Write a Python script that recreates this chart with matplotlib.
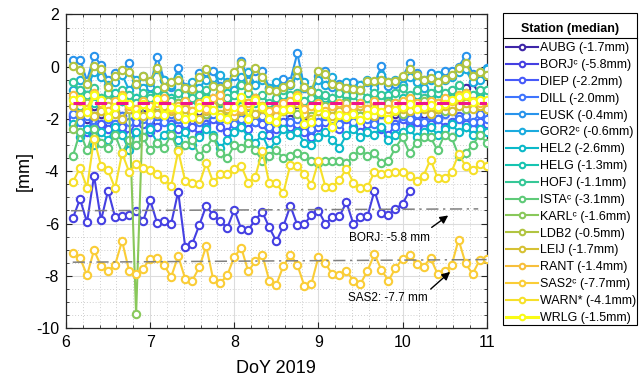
import numpy as np
import matplotlib
matplotlib.use("Agg")
import matplotlib.pyplot as plt
from matplotlib.ticker import MultipleLocator
from matplotlib.patches import Rectangle

plt.rcParams['font.family'] = ['Liberation Sans', 'DejaVu Sans']
plt.rcParams['axes.unicode_minus'] = False

# ---------------- data ----------------
doy = 6 + np.arange(1, 61) / 12.0   # 2-hourly epochs, DoY 6.08 .. 11.0

stations = ['AUBG', 'BORJ\u1d9c', 'DIEP', 'DILL', 'EUSK', 'GOR2\u1d9c', 'HEL2', 'HELG', 'HOFJ',
            'ISTA\u1d9c', 'KARL\u1d9c', 'LDB2', 'LEIJ', 'RANT', 'SAS2\u1d9c', 'WARN*', 'WRLG']
medians = [-1.7, -5.8, -2.2, -2.0, -0.4, -0.6, -2.6, -1.3, -1.1, -3.1, -1.6, -0.5, -1.7, -1.4, -7.7, -4.1, -1.5]

AUBG = [-1.9,-1.6,-2.0,-1.5,-1.8,-2.1,-1.7,-1.9,-1.6,-2.0,-1.8,-1.7,
        -2.1,-1.8,-1.6,-2.0,-1.9,-2.2,-1.7,-1.8,-1.6,-1.9,-2.0,-1.8,
        -1.5,-1.7,-2.1,-1.9,-1.6,-1.8,-2.2,-2.0,-1.7,-1.9,-2.4,-2.2,
        -1.8,-1.9,-2.1,-1.7,-1.6,-1.9,-1.8,-2.0,-1.7,-1.5,-1.8,-1.6,
        -1.7,-1.5,-1.8,-1.4,-1.6,-1.2,-1.3,-1.0,-0.8,-0.6,-1.1,-1.3]
BORJ = [-5.78,-5.06,-5.96,-4.17,-5.88,-4.74,-5.75,-5.70,-5.68,-5.51,-5.91,-5.10,
        -5.98,-5.91,-6.01,-4.78,-6.89,-6.78,-6.07,-5.32,-5.68,-5.91,-6.17,-5.48,
        -6.21,-6.24,-5.86,-5.56,-6.15,-6.68,-6.11,-5.32,-6.06,-6.02,-5.68,-5.51,
        -6.01,-5.75,-5.73,-5.18,-6.03,-5.75,-5.73,-4.74,-5.60,-5.68,-5.44,-5.25,
        -4.75]
DIEP = [-2.0,-2.3,-2.5,-1.9,-2.2,-2.4,-2.0,-2.3,-2.6,-2.1,-2.2,-2.5,
        -2.3,-2.0,-2.2,-2.4,-2.1,-2.3,-2.6,-2.2,-2.0,-2.3,-2.5,-2.1,
        -2.2,-2.4,-2.0,-2.2,-2.6,-2.4,-2.1,-2.3,-2.2,-2.5,-2.7,-2.3,
        -2.1,-2.2,-2.4,-2.0,-2.3,-2.5,-2.2,-2.1,-2.4,-2.6,-2.2,-2.0,
        -2.3,-2.1,-2.4,-2.2,-2.0,-2.3,-2.1,-1.9,-2.2,-2.4,-2.1,-2.2]
DILL = [-1.8,-2.1,-1.9,-2.3,-1.7,-2.0,-2.2,-1.9,-2.1,-1.8,-2.0,-2.3,
        -1.9,-2.1,-1.8,-2.0,-2.2,-1.9,-2.1,-2.3,-1.8,-2.0,-1.9,-2.2,
        -2.0,-1.8,-2.1,-1.9,-2.3,-2.0,-1.7,-2.1,-2.0,-2.2,-2.4,-2.1,
        -1.9,-2.0,-2.2,-1.8,-2.1,-1.9,-2.0,-2.2,-1.8,-2.0,-2.3,-1.9,
        -2.0,-1.8,-2.1,-1.9,-2.0,-1.8,-1.7,-2.0,-1.9,-2.1,-1.8,-2.0]
EUSK = [0.25,0.25,-0.53,0.42,0.06,-0.51,-0.25,-0.15,0.13,-0.66,-0.34,-0.76,
        0.38,-0.51,-0.76,-0.06,-0.79,-0.72,-0.25,-0.21,-0.15,-0.75,-0.81,-0.34,
        0.23,-0.53,-0.15,-0.18,-0.81,-0.89,-0.47,-0.53,0.52,-0.81,-0.91,-0.34,
        -0.18,-0.79,-0.66,-0.72,-0.60,-0.85,-0.60,-0.66,0.04,-0.72,-0.66,-0.41,
        0.14,-0.25,-0.51,-0.25,-0.53,-0.15,-0.15,0.00,0.42,-0.28,-0.30,-0.03]
GOR2 = [-0.9,-0.5,-0.8,-0.2,-0.4,-0.7,-0.6,-0.3,-0.9,-0.5,-0.8,-0.6,
        -0.1,-0.5,-0.7,-0.4,-0.9,-0.6,-0.8,-0.5,-0.7,-0.3,-0.6,-0.9,
        -0.4,-0.2,-0.7,-0.5,-0.8,-0.6,-0.9,-0.7,-0.3,-0.6,-0.9,-0.5,
        -0.7,-0.4,-0.8,-0.6,-0.9,-0.7,-0.5,-0.8,-0.3,-0.6,-0.5,-0.7,
        -0.4,-0.6,-0.8,-0.5,-0.3,-0.5,-0.4,-0.2,-0.1,-0.6,-0.5,-0.1]
HEL2 = [-2.2,-2.7,-2.4,-3.0,-2.5,-2.8,-2.3,-2.6,-3.2,-2.5,-2.7,-2.4,
        -2.9,-2.6,-2.3,-2.8,-2.5,-3.0,-2.7,-2.4,-2.6,-3.1,-2.8,-2.5,
        -2.3,-2.7,-2.9,-2.6,-3.2,-2.8,-2.4,-2.6,-2.5,-2.9,-3.0,-2.7,
        -2.5,-2.8,-3.1,-2.6,-2.4,-2.7,-2.5,-2.6,-2.3,-2.8,-2.6,-2.5,
        -2.4,-2.7,-2.5,-2.3,-2.6,-2.4,-2.2,-2.5,-2.3,-2.6,-2.4,-2.5]
HELG = [-1.2,-1.5,-1.1,-1.4,-1.3,-1.6,-1.0,-1.3,-1.5,-1.2,-1.4,-1.1,
        -1.3,-1.6,-1.2,-1.4,-1.1,-1.5,-1.3,-1.2,-1.6,-1.4,-1.0,-1.3,
        -1.5,-1.2,-1.4,-1.3,-1.6,-1.4,-1.1,-1.3,-1.2,-1.5,-1.7,-1.3,
        -1.2,-1.4,-1.5,-1.1,-1.3,-1.4,-1.2,-1.5,-1.3,-1.1,-1.4,-1.2,
        -1.3,-1.1,-1.4,-1.2,-1.0,-1.3,-1.2,-0.9,-1.1,-1.3,-1.2,-1.1]
HOFJ = [-0.6,-0.9,-1.1,-0.8,-1.2,-1.0,-1.3,-0.9,-1.1,-1.4,-1.0,-1.2,
        -0.9,-1.1,-1.3,-1.0,-0.8,-1.2,-1.1,-0.9,-1.3,-1.0,-1.2,-1.1,
        -0.7,-1.0,-1.2,-1.1,-1.4,-1.2,-0.9,-1.1,-1.0,-1.3,-1.2,-1.0,
        -1.1,-1.2,-1.0,-1.3,-1.1,-0.9,-1.2,-1.0,-1.1,-1.3,-1.0,-0.8,
        -1.1,-0.9,-1.2,-1.0,-0.8,-1.0,-0.9,-0.7,-1.0,-1.1,-0.9,-0.9]
ISTA = [-3.4,-2.5,-3.2,-2.4,-2.9,-3.1,-2.6,-3.3,-2.8,-3.0,-2.7,-3.2,
        -2.9,-3.1,-2.6,-3.2,-3.0,-2.8,-3.4,-3.1,-2.7,-3.3,-3.5,-3.0,
        -3.1,-2.9,-3.2,-3.6,-3.4,-3.2,-3.5,-3.4,-3.3,-3.4,-3.6,-3.7,
        -3.6,-3.6,-3.6,-3.7,-3.4,-3.2,-3.4,-3.3,-3.7,-3.6,-3.1,-2.7,
        -3.3,-2.9,-2.7,-2.7,-3.2,-2.6,-2.7,-3.4,-3.3,-3.0,-2.6,-2.9]
KARL = [-2.4,-1.8,-1.4,-1.9,-1.6,-1.3,-1.7,-2.0,-1.5,-9.48,-1.4,-1.8,
        -1.5,-1.8,-1.6,-1.4,-1.9,-1.7,-1.5,-1.8,-1.6,-1.3,-1.7,-1.9,
        -1.6,-1.4,-1.8,-1.5,-1.7,-2.0,-1.6,-1.4,-1.8,-1.6,-1.9,-1.7,
        -1.5,-1.6,-1.8,-1.4,-1.7,-1.9,-1.6,-1.5,-1.7,-1.4,-1.6,-1.8,
        -1.6,-1.5,-1.3,-1.6,-1.4,-1.7,-1.5,-1.3,-1.6,-1.4,-1.5,-1.6]
LDB2 = [0.04,-0.11,-0.66,0.04,-0.09,-0.76,-0.34,-0.13,-0.21,-0.66,-0.34,-0.53,
        -0.03,-0.76,-0.60,-0.49,-0.81,-0.85,-0.41,-0.09,-0.72,-0.81,-0.66,-0.21,
        0.13,-0.76,-0.05,-0.41,-0.89,-0.94,-0.79,-0.66,-0.13,-0.79,-0.91,-0.18,
        -0.28,-0.66,-0.72,-0.81,-0.85,-0.89,-0.56,-0.53,-0.51,-0.60,-0.53,-0.34,
        -0.09,-0.30,-0.49,-0.43,-0.60,-0.47,-0.30,-0.03,0.13,-0.34,-0.21,-0.30]
LEIJ = [-1.5,-1.8,-1.6,-1.9,-1.7,-1.5,-1.8,-2.0,-1.6,-1.7,-1.9,-1.6,
        -1.8,-1.5,-1.7,-1.9,-1.6,-1.8,-2.0,-1.7,-1.5,-1.8,-1.6,-1.9,
        -1.7,-1.5,-1.8,-1.6,-2.0,-1.9,-1.7,-1.6,-1.4,-1.8,-2.0,-1.7,
        -1.8,-1.9,-1.7,-1.6,-1.8,-1.5,-1.7,-1.9,-1.6,-1.8,-1.7,-1.6,
        -1.7,-1.5,-1.6,-1.8,-1.6,-1.5,-1.7,-1.5,-1.4,-1.6,-1.5,-1.6]
RANT = [-1.1,-1.3,-1.6,-1.0,-1.4,-1.7,-1.3,-1.1,-1.5,-1.6,-1.3,-1.5,
        -1.4,-1.2,-1.6,-1.5,-1.3,-1.7,-1.4,-1.6,-1.2,-1.1,-1.5,-1.7,
        -1.6,-1.4,-1.2,-1.5,-1.7,-1.6,-1.4,-1.3,-1.1,-1.6,-1.5,-1.4,
        -1.7,-1.5,-1.4,-1.6,-1.5,-1.4,-1.6,-1.3,-1.5,-1.6,-1.4,-1.3,
        -1.2,-1.4,-1.5,-1.3,-1.4,-1.2,-1.3,-1.1,-1.0,-1.3,-1.4,-1.3]
SAS2 = [-7.14,-7.31,-7.98,-7.02,-7.63,-7.81,-7.58,-6.67,-7.81,-7.95,-7.73,-7.34,
        -7.32,-7.60,-8.04,-7.25,-8.11,-8.19,-7.68,-6.87,-8.14,-8.28,-7.98,-7.28,
        -6.93,-7.83,-7.45,-7.20,-8.19,-8.34,-7.63,-7.20,-7.58,-8.39,-8.31,-7.28,
        -7.53,-7.95,-7.96,-7.81,-8.19,-8.31,-7.81,-7.17,-7.78,-8.19,-7.71,-7.35,
        -7.20,-7.55,-7.65,-7.32,-7.93,-7.83,-7.60,-6.62,-7.53,-7.93,-7.40,-7.35]
WARN = [-4.40,-3.87,-4.63,-2.75,-3.80,-3.97,-4.65,-3.31,-4.02,-3.74,-3.89,-3.94,
        -4.09,-4.30,-4.57,-3.22,-4.37,-4.45,-4.50,-3.69,-4.42,-4.12,-4.09,-3.93,
        -3.80,-4.44,-4.21,-3.22,-4.46,-4.46,-4.84,-3.75,-3.80,-4.09,-4.54,-3.62,
        -4.59,-4.59,-4.33,-3.90,-4.44,-4.64,-4.61,-4.02,-4.12,-4.06,-4.02,-4.02,
        -4.17,-4.36,-4.17,-3.55,-4.25,-4.25,-4.02,-3.35,-3.79,-3.97,-3.74,-3.80]
WRLG = [-1.29,-1.23,-1.74,-1.10,-1.29,-1.93,-1.55,-1.17,-1.42,-1.86,-1.42,-1.80,
        -1.23,-1.86,-1.55,-1.61,-1.99,-1.93,-1.55,-1.29,-1.67,-1.93,-1.99,-1.55,
        -1.17,-1.99,-1.29,-1.55,-1.99,-2.12,-1.67,-1.61,-1.17,-2.18,-2.12,-1.55,
        -1.80,-2.31,-1.86,-1.93,-1.80,-2.03,-1.86,-1.67,-1.74,-1.99,-1.67,-1.55,
        -1.42,-1.61,-1.55,-1.48,-1.55,-1.42,-1.29,-1.17,-1.10,-1.36,-1.29,-1.29]

series = [AUBG, BORJ, DIEP, DILL, EUSK, GOR2, HEL2, HELG, HOFJ,
          ISTA, KARL, LDB2, LEIJ, RANT, SAS2, WARN, WRLG]

mean_level = -1.38
ref_lines = {'BORJ': ([6.06, 10.9], [-5.51, -5.44]),
             'SAS2': ([6.08, 11.0], [-7.48, -7.38])}

# ---------------- colours (parula-like) ----------------
par_t = np.array([0, 0.0635, 0.127, 0.19, 0.254, 0.317, 0.381, 0.444, 0.508,
                  0.571, 0.635, 0.698, 0.762, 0.825, 0.889, 0.952, 1.0])
par_c = np.array([[0.2422, 0.1504, 0.6603], [0.2691, 0.2530, 0.8914], [0.2780, 0.3556, 0.9777],
                  [0.2440, 0.4595, 0.9953], [0.1540, 0.5902, 0.9218], [0.1038, 0.6754, 0.8662],
                  [0.0383, 0.7299, 0.7822], [0.0952, 0.7712, 0.6845], [0.2288, 0.7813, 0.5777],
                  [0.3943, 0.7935, 0.4559], [0.5630, 0.7843, 0.3368], [0.7205, 0.7671, 0.2394],
                  [0.8674, 0.7528, 0.1936], [0.9932, 0.7463, 0.2446], [0.9785, 0.8185, 0.2056],
                  [0.9616, 0.8944, 0.1545], [0.9769, 0.9839, 0.0805]])
def parula(t):
    return tuple(np.interp(t, par_t, par_c[:, i]) for i in range(3))
colors = [parula(i / 16) for i in range(17)]

# ---------------- figure ----------------
W, H = 642, 381
fig = plt.figure(figsize=(W / 100, H / 100), dpi=100)
ax = fig.add_axes([0.1028, 0.139, 0.6552, 0.823])

handles = []
for name, med, vals, col in zip(stations, medians, series, colors):
    lw = 2.2 if name == 'WRLG' else 1.5
    h, = ax.plot(doy[:len(vals)], vals, '-o', color=col, lw=lw, ms=5.3, mew=1.5,
                 mfc='white', mec=col, label=f'{name} ({med:.1f}mm)', zorder=3)
    handles.append(h)

ax.axhline(mean_level, xmin=0.016, xmax=1.0, color='#f0148c', lw=2.2, ls=(0, (4, 3)), zorder=5)
for key, (xs, ys) in ref_lines.items():
    ax.plot(xs, ys, color='#808080', lw=1.1, ls=(0, (8, 3, 1.5, 3)), zorder=6)

ax.annotate('', xy=(10.57, -5.63), xytext=(10.32, -6.21),
            arrowprops=dict(arrowstyle='-|>', color='black', lw=1.0, mutation_scale=12), zorder=7)
ax.text(9.36, -6.54, 'BORJ: -5.8 mm', fontsize=8.5, va='center', ha='left', zorder=7)
ax.annotate('', xy=(10.59, -7.78), xytext=(10.31, -8.58),
            arrowprops=dict(arrowstyle='-|>', color='black', lw=1.0, mutation_scale=12), zorder=7)
ax.text(9.35, -8.86, 'SAS2: -7.7 mm', fontsize=8.5, va='center', ha='left', zorder=7)

ax.set_xlim(6, 11)
ax.set_ylim(-10, 2)
ax.xaxis.set_major_locator(MultipleLocator(1))
ax.xaxis.set_minor_locator(MultipleLocator(0.2))
ax.yaxis.set_major_locator(MultipleLocator(2))
ax.yaxis.set_minor_locator(MultipleLocator(0.5))
ax.grid(which='major', color='#dcdcdc', lw=0.8, ls='-', zorder=0)
ax.grid(which='minor', color='#bfbfbf', lw=0.6, ls=(0, (1, 2.5)), zorder=0)
ax.set_axisbelow(True)
ax.tick_params(which='both', direction='in', top=True, right=True, color='#262626')
ax.tick_params(which='major', length=4.5, labelsize=11.5, pad=5)
ax.tick_params(which='minor', length=2.5)
for s in ax.spines.values():
    s.set_color('#262626')
    s.set_linewidth(0.9)
ax.set_xlabel('DoY 2019', fontsize=13, labelpad=7)
ax.set_ylabel('[mm]', fontsize=13, labelpad=2)

# ---------------- legend (MATLAB style box with title separator) ----------------
bx0, bx1, by0, by1 = 503, 637, 13, 325        # pixel box (top-left origin)
fig.add_artist(Rectangle((bx0 / W, 1 - by1 / H), (bx1 - bx0) / W, (by1 - by0) / H,
                         transform=fig.transFigure, fill=True, facecolor='white',
                         edgecolor='black', lw=0.8, zorder=2))
fig.text((bx0 + bx1) / 2 / W, 1 - 29 / H, 'Station (median)', ha='center', va='center',
         fontsize=9, fontweight='bold', zorder=4)
fig.add_artist(plt.Line2D([bx0 / W, bx1 / W], [1 - 38 / H, 1 - 38 / H],
                          transform=fig.transFigure, color='black', lw=0.8, zorder=4))
leg = fig.legend(handles=handles, loc='upper left', bbox_to_anchor=(506 / W, 1 - 42 / H),
                 fontsize=9, frameon=False, handlelength=2.55, handletextpad=0.2,
                 labelspacing=0.39, borderpad=0, borderaxespad=0, markerscale=0.75)
leg.set_zorder(5)

fig.savefig('out.png', dpi=100)
